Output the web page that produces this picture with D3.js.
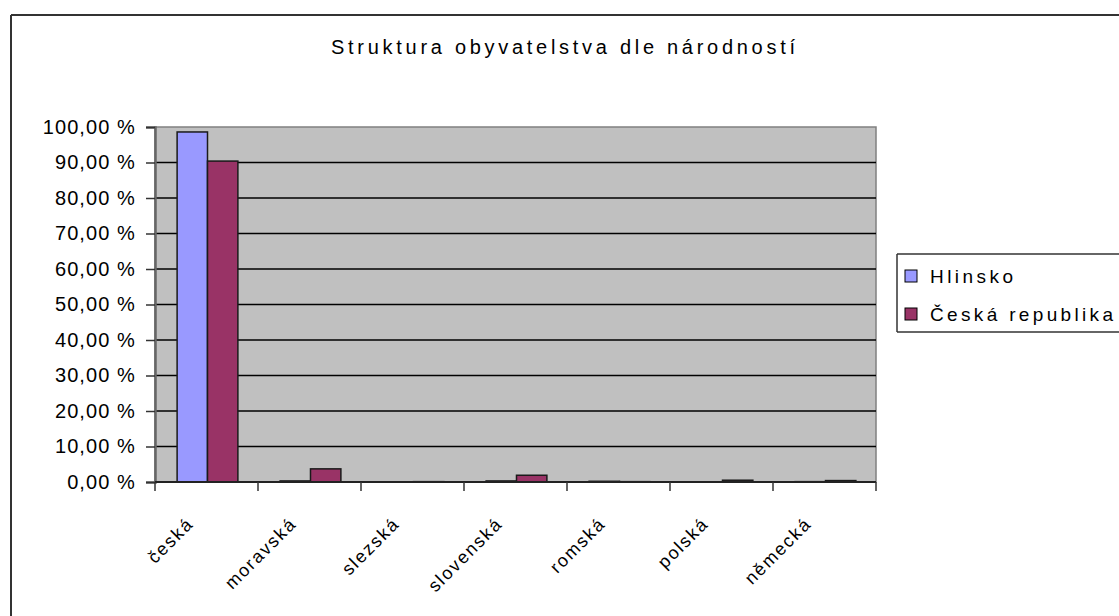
<!DOCTYPE html>
<html>
<head>
<meta charset="utf-8">
<script src="https://cdn.jsdelivr.net/npm/d3@7"></script>
<style>
  html, body { margin: 0; padding: 0; background: #fff; }
  svg { display: block; font-family: Arial, "Liberation Sans", sans-serif; }
</style>
</head>
<body>
<svg id="chart" width="1119" height="616"></svg>
<script>
const title = "Struktura obyvatelstva dle národností";
const categories = ["česká", "moravská", "slezská", "slovenská", "romská", "polská", "německá"];
const seriesNames = ["Hlinsko", "Česká republika"];
const hlinsko = [98.6, 0.3, 0.0, 0.3, 0.2, 0.0, 0.1];
const ceskaRepublika = [90.4, 3.7, 0.1, 1.9, 0.1, 0.5, 0.4];
const yTicks = [0, 10, 20, 30, 40, 50, 60, 70, 80, 90, 100];
const colors = ["#9999FF", "#993366"];

const svg = d3.select("#chart");
const W = 1119, H = 616;
const plot = { left: 155, right: 876, top: 127, bottom: 482 };

// outer chart frame
svg.append("line").attr("x1", 11).attr("x2", W).attr("y1", 15).attr("y2", 15)
  .attr("stroke", "#333").attr("stroke-width", 2);
svg.append("line").attr("x1", 11).attr("x2", 11).attr("y1", 15).attr("y2", H)
  .attr("stroke", "#333").attr("stroke-width", 2);

// title
svg.append("text").attr("x", 331).attr("y", 54)
  .attr("font-size", 20).attr("fill", "#000")
  .attr("textLength", 464).attr("lengthAdjust", "spacing")
  .text(title);

const x0 = d3.scaleBand().domain(categories).range([plot.left, plot.right])
  .paddingInner(0.41).paddingOuter(0.205);
const x1 = d3.scaleBand().domain(seriesNames).range([0, x0.bandwidth()]);
const y = d3.scaleLinear().domain([0, 100]).range([plot.bottom, plot.top]);

// plot area
svg.append("rect").attr("x", plot.left).attr("y", plot.top)
  .attr("width", plot.right - plot.left).attr("height", plot.bottom - plot.top)
  .attr("fill", "#C0C0C0").attr("stroke", "#808080").attr("stroke-width", 1.5);

// gridlines
svg.append("g").selectAll("line").data(yTicks.filter(d => d > 0 && d < 100)).join("line")
  .attr("x1", plot.left).attr("x2", plot.right)
  .attr("y1", d => y(d)).attr("y2", d => y(d))
  .attr("stroke", "#000").attr("stroke-width", 1.5);

// y axis
const yAxis = d3.axisLeft(y).tickValues(yTicks).tickSize(9).tickPadding(10)
  .tickFormat(d => d3.format(".2f")(d).replace(".", ",") + " %");
const gy = svg.append("g").attr("transform", `translate(${plot.left},0)`).call(yAxis);
gy.select(".domain").attr("stroke", "#666").attr("stroke-width", 2.5);
gy.selectAll(".tick line").attr("stroke", "#333").attr("stroke-width", 1.5);
gy.selectAll(".tick text").attr("font-size", 20).attr("fill", "#000")
  .attr("letter-spacing", "1.1px").attr("font-family", "Arial, 'Liberation Sans', sans-serif");

// bars
const groups = svg.append("g").selectAll("g").data(categories).join("g")
  .attr("transform", d => `translate(${x0(d)},0)`);
groups.selectAll("rect").data((d, i) => [
    { s: seriesNames[0], v: hlinsko[i], c: colors[0] },
    { s: seriesNames[1], v: ceskaRepublika[i], c: colors[1] }
  ]).join("rect")
  .attr("x", d => x1(d.s) + 1).attr("width", x1.bandwidth())
  .attr("y", d => y(d.v)).attr("height", d => plot.bottom - y(d.v))
  .attr("fill", d => d.c).attr("stroke", "#1a1a1a").attr("stroke-width", 1.5);

// x axis line
svg.append("line").attr("x1", plot.left).attr("x2", plot.right)
  .attr("y1", plot.bottom).attr("y2", plot.bottom)
  .attr("stroke", "#222").attr("stroke-width", 2);

// x ticks at category boundaries
const step = x0.step();
const boundaries = d3.range(categories.length + 1).map(i => plot.left + i * step);
svg.append("g").selectAll("line").data(boundaries).join("line")
  .attr("x1", d => d).attr("x2", d => d)
  .attr("y1", plot.bottom).attr("y2", plot.bottom + 9)
  .attr("stroke", "#333").attr("stroke-width", 1.5);

// x labels
svg.append("g").selectAll("text").data(categories).join("text")
  .attr("transform", d => `translate(${x0(d) + x0.bandwidth() / 2 - 12},${plot.bottom + 43}) rotate(-45)`)
  .attr("text-anchor", "end").attr("font-size", 18).attr("fill", "#000")
  .attr("letter-spacing", "1.8px")
  .text(d => d);

// legend
const lg = svg.append("g");
lg.append("line").attr("x1", 897).attr("x2", W).attr("y1", 254).attr("y2", 254).attr("stroke", "#333").attr("stroke-width", 1.5);
lg.append("line").attr("x1", 897).attr("x2", W).attr("y1", 332).attr("y2", 332).attr("stroke", "#333").attr("stroke-width", 1.5);
lg.append("line").attr("x1", 897).attr("x2", 897).attr("y1", 254).attr("y2", 332).attr("stroke", "#333").attr("stroke-width", 1.5);
const legendWidths = [83, 183];
seriesNames.forEach((name, i) => {
  const cy = 276 + i * 38;
  lg.append("rect").attr("x", 905).attr("y", cy - 6).attr("width", 12).attr("height", 12)
    .attr("fill", colors[i]).attr("stroke", "#000").attr("stroke-width", 1);
  lg.append("text").attr("x", 930).attr("y", cy + 7).attr("font-size", 19).attr("fill", "#000")
    .attr("textLength", legendWidths[i]).attr("lengthAdjust", "spacing")
    .text(name);
});
</script>
</body>
</html>
